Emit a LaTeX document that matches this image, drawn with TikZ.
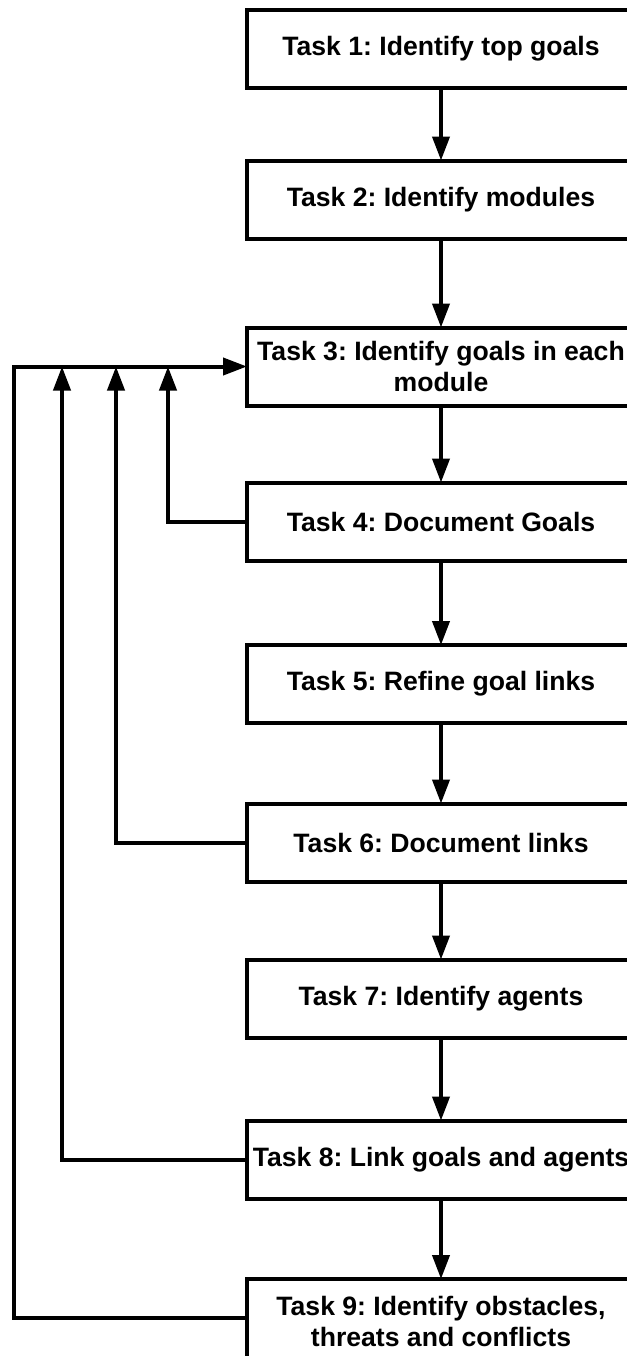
\documentclass[tikz,border=0pt]{standalone}
\usepackage{fontspec}
\setmainfont{Liberation Sans}
\usetikzlibrary{arrows.meta}
\begin{document}
\frenchspacing
\begin{tikzpicture}[x=0.5pt,y=-0.5pt,
  line width=2pt,
  taskbox/.style={draw=black, fill=white, rectangle, minimum width=194pt,
    minimum height=39pt, inner sep=0pt, outer sep=0pt, align=center,
    font=\fontsize{13.3}{15.5}\selectfont\bfseries},
  flow/.style={-{Triangle[length=12pt,width=8.5pt]}}]
\useasboundingbox (0,0) rectangle (627,1356);

% task boxes, stacked on the right
\node[taskbox] (t1) at (441,48.5)   {Task 1: Identify top goals};
\node[taskbox] (t2) at (441,199.5)  {Task 2: Identify modules};
\node[taskbox] (t3) at (441,366.5)  {Task 3: Identify goals in each\\module};
\node[taskbox] (t4) at (441,521.5)  {Task 4: Document Goals};
\node[taskbox] (t5) at (441,684)    {Task 5: Refine goal links};
\node[taskbox] (t6) at (441,842.5)  {Task 6: Document links};
\node[taskbox] (t7) at (441,998.5)  {Task 7: Identify agents};
\node[taskbox] (t8) at (441,1159.5) {Task 8: Link goals and agents};
\node[taskbox, minimum height=42pt] (t9) at (441,1321) {Task 9: Identify obstacles,\\threats and conflicts};

% main sequence
\foreach \a/\b in {t1/t2,t2/t3,t3/t4,t4/t5,t5/t6,t6/t7,t7/t8,t8/t9}
  \draw[flow] (\a.south) -- (\b.north);

% feedback loops back to task 3
\coordinate (bus0) at (14,366.5);
\coordinate (bus8) at (62,366.5);
\coordinate (bus6) at (116,366.5);
\coordinate (bus4) at (168,366.5);
\coordinate (t9in) at (247,1318);
\draw[flow] (t9in) -| (bus0) -- (t3.west);
\draw[flow] (t8.west) -| (bus8);
\draw[flow] (t6.west) -| (bus6);
\draw[flow] (t4.west) -| (bus4);
\end{tikzpicture}
\end{document}
